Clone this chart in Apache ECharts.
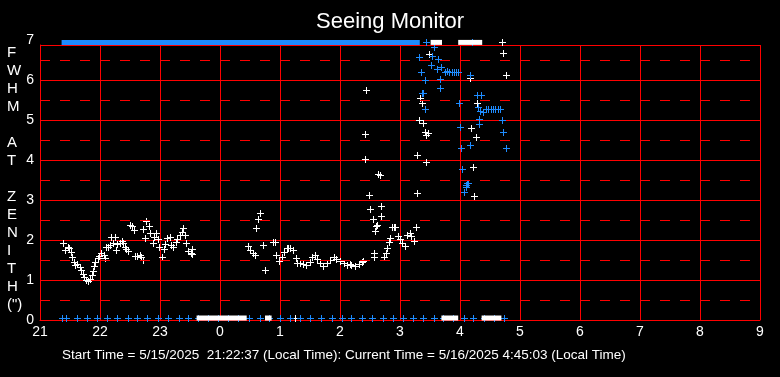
<!DOCTYPE html>
<html>
<head>
<meta charset="utf-8">
<script src="https://cdn.jsdelivr.net/npm/echarts@6/dist/echarts.min.js"></script>
<style>
html, body { margin: 0; padding: 0; background: #000; }
#chart { width: 780px; height: 377px; }
</style>
</head>
<body>
<div id="chart"></div>
<script>
// hours after midnight are written as 24 + h
var xTicks = [21, 22, 23, 24, 25, 26, 27, 28, 29, 30, 31, 32, 33];
var dashLevels = [0.5, 1.5, 2.5, 3.5, 4.5, 5.5, 6.5];

// seeing values (white)
var whitePts = [
    [21.39,1.92],[21.42,1.75],[21.46,1.83],[21.49,1.79],[21.51,1.71],[21.53,1.58],[21.56,1.46],[21.58,1.38],
    [21.62,1.40],[21.66,1.33],[21.68,1.25],[21.71,1.15],[21.73,1.07],[21.76,1.00],[21.80,0.97],[21.83,1.02],
    [21.86,1.13],[21.88,1.23],[21.90,1.35],[21.92,1.46],[21.96,1.54],[21.99,1.60],[22.02,1.67],[22.06,1.63],
    [22.08,1.54],[22.10,1.82],[22.14,1.83],[22.17,1.88],[22.18,2.08],[22.22,1.93],[22.25,2.08],[22.27,1.75],
    [22.29,1.90],[22.33,1.93],[22.36,1.98],[22.39,1.92],[22.42,1.83],[22.44,1.77],[22.47,1.73],[22.50,2.38],
    [22.53,2.35],[22.56,2.25],[22.58,1.60],[22.62,1.60],[22.66,1.63],[22.68,1.57],[22.71,1.50],[22.72,2.27],
    [22.75,2.04],[22.77,2.48],[22.81,2.35],[22.83,2.18],[22.88,1.92],[22.90,2.07],[22.93,2.18],[22.96,2.02],
    [22.99,1.83],[23.03,1.58],[23.06,1.77],[23.09,1.90],[23.11,2.04],[23.17,2.07],[23.19,1.88],[23.22,1.83],
    [23.27,1.96],[23.29,2.02],[23.33,2.13],[23.36,2.21],[23.39,2.29],[23.42,2.13],[23.44,1.92],[23.47,1.73],
    [23.51,1.68],[23.53,1.65],[23.54,1.77],
    [24.46,1.85],[24.50,1.75],[24.55,1.68],[24.58,1.63],[24.60,2.29],[24.64,2.52],[24.67,2.67],[24.71,1.88],
    [24.75,1.25],[24.89,1.96],[24.91,1.96],[24.93,1.63],[24.99,1.48],[25.03,1.58],[25.07,1.71],[25.11,1.79],
    [25.14,1.80],[25.17,1.79],[25.22,1.75],[25.27,1.54],[25.29,1.42],[25.33,1.43],[25.39,1.40],[25.44,1.38],
    [25.50,1.46],[25.54,1.57],[25.58,1.63],[25.62,1.52],[25.67,1.42],[25.72,1.35],[25.78,1.42],[25.83,1.50],
    [25.90,1.57],[25.94,1.52],[26.00,1.48],[26.06,1.43],[26.11,1.38],[26.16,1.40],[26.18,1.38],[26.25,1.35],
    [26.31,1.40],[26.36,1.46],[26.39,1.48],
    [26.41,4.02],[26.42,4.64],[26.44,5.74],[26.49,3.13],[26.50,2.77],[26.55,2.52],[26.57,1.67],[26.57,1.57],
    [26.59,2.23],[26.60,2.35],[26.61,2.38],[26.64,3.65],[26.66,3.62],[26.68,2.85],[26.69,2.60],[26.73,1.57],
    [26.76,1.67],[26.78,1.79],[26.81,1.96],[26.83,2.04],[26.87,2.32],[26.90,2.33],[26.92,2.33],[26.96,2.10],
    [27.00,2.02],[27.04,1.93],[27.08,1.85],[27.11,2.13],[27.16,2.18],[27.19,2.10],[27.23,1.98],[27.26,2.32],
    [27.28,3.17],[27.29,4.12],[27.31,4.99],[27.33,5.54],[27.36,5.43],[27.39,4.92],[27.41,4.71],[27.44,4.63],
    [27.47,4.68],[27.44,3.94],[27.49,6.64],
    [28.17,6.04],[28.19,4.79],[28.21,3.82],[28.24,3.10],[28.26,4.58],[28.28,5.42],[28.72,6.67],[28.76,6.12],
    [25.25,0.05],[28.70,6.94]
];

// second channel (blue)
var bluePts = [
    [27.32,6.57],[27.35,6.19],[27.36,5.68],[27.39,5.67],[27.41,5.27],[27.42,6.00],[27.52,6.38],[27.54,6.60],
    [27.57,6.82],[27.61,6.27],[27.64,6.52],[27.67,6.02],[27.67,5.79],[27.69,6.32],[27.75,6.20],[27.78,6.22],
    [27.82,6.20],[27.86,6.21],[27.90,6.19],[27.94,6.20],[27.97,6.20],[27.99,5.42],[28.005,4.83],[28.02,4.29],
    [28.04,3.77],[28.07,3.21],[28.10,3.33],[28.10,3.38],[28.12,3.43],[28.14,3.42],[28.16,4.37],[28.17,6.13],
    [28.28,5.63],[28.30,5.33],[28.31,5.02],[28.32,4.89],[28.33,5.22],[28.35,5.63],[28.39,5.21],[28.43,5.27],
    [28.47,5.27],[28.51,5.27],[28.55,5.27],[28.59,5.27],[28.63,5.27],[28.67,5.27],[28.70,5.00],[28.72,4.69],
    [28.76,4.30],[27.44,6.94],[28.20,6.94]
];

// bottom row of blue markers (times)
var bottomBlueTimes = [
    21.36, 21.44, 21.61, 21.78, 21.95, 22.11, 22.29, 22.46, 22.62, 22.79, 22.96, 23.14, 23.31, 23.47,
    23.64, 23.80, 23.97, 24.14, 24.30, 24.49, 24.66, 24.82, 25.00, 25.17, 25.33, 25.50, 25.68, 25.86,
    26.03, 26.19, 26.36, 26.53, 26.71, 26.88, 27.05, 27.21, 27.38, 27.56, 27.72, 27.88, 28.06, 28.22,
    28.40, 28.57, 28.73
];

// runs of saturated readings, [start, end]
var topBlueRuns = [[21.36, 27.33]];
var topWhiteRuns = [[27.51, 27.70], [27.97, 28.37]];
var bottomWhiteRuns = [[23.61, 24.445], [24.75, 24.86], [27.69, 27.97], [28.36, 28.69]];

var TOP_V = 6.94, BOT_V = 0.05;
var BLUE = '#1E8CFF', RED = '#FF0000';

function runSeries(runs, v, color) {
    return runs.map(function (r) {
        return {
            type: 'line', clip: false, symbol: 'none', silent: true,
            data: [[r[0], v], [r[1], v]],
            lineStyle: { color: color, width: 5 }
        };
    });
}

// pixel-snapped "+" marker
function crossSeries(data, color) {
    return {
        type: 'custom', clip: false, silent: true, data: data,
        encode: { x: 0, y: 1 },
        renderItem: function (params, api) {
            var p = api.coord([api.value(0), api.value(1)]);
            var x = Math.round(p[0]), y = Math.round(p[1]);
            return {
                type: 'group',
                children: [
                    { type: 'rect', shape: { x: x - 3, y: y, width: 7, height: 1 }, style: { fill: color } },
                    { type: 'rect', shape: { x: x, y: y - 3, width: 1, height: 7 }, style: { fill: color } }
                ]
            };
        }
    };
}

var chart = echarts.init(document.getElementById('chart'), null, { renderer: 'canvas' });

var series = [];
series.push({
    type: 'scatter', data: [], silent: true,
    markLine: {
        silent: true, symbol: 'none', label: { show: false }, animation: false,
        lineStyle: { color: RED, width: 1, type: [10, 10] },
        data: dashLevels.map(function (v) { return { yAxis: v }; })
    }
});
series = series.concat(runSeries(bottomWhiteRuns, BOT_V, '#fff'));
series = series.concat(runSeries(topBlueRuns, TOP_V, BLUE));
series = series.concat(runSeries(topWhiteRuns, TOP_V, '#fff'));
series.push(crossSeries(whitePts, '#fff'));
series.push(crossSeries(bluePts.concat(bottomBlueTimes.map(function (t) { return [t, BOT_V]; })), BLUE));

chart.setOption({
    backgroundColor: '#000',
    animation: false,
    textStyle: { fontFamily: 'Liberation Sans, Arial, sans-serif' },
    title: {
        text: 'Seeing Monitor', left: 'center', top: 6,
        textStyle: { color: '#fff', fontSize: 22, fontWeight: 'normal' }
    },
    grid: { left: 40, right: 20, top: 45, bottom: 57 },
    xAxis: {
        type: 'value', min: 21, max: 33, interval: 1,
        axisLine: { lineStyle: { color: RED, width: 1 } },
        axisTick: { show: false },
        splitLine: { show: true, lineStyle: { color: RED, width: 1 } },
        axisLabel: {
            color: '#fff', fontSize: 14, margin: 5,
            formatter: function (v) { return String(v % 24); }
        }
    },
    yAxis: {
        type: 'value', min: 0, max: 6.875, interval: 1,
        axisLine: { show: true, lineStyle: { color: RED, width: 1 } },
        axisTick: { show: false },
        splitLine: { show: true, lineStyle: { color: RED, width: 1 } },
        axisLabel: {
            color: '#fff', fontSize: 14, margin: 6,
            formatter: function (v) { return v > 6.8 ? '{t|7}' : String(v); },
            rich: { t: { color: '#fff', fontSize: 14, padding: [0, 0, 10, 0] } }
        }
    },
    graphic: [
        {
            type: 'text', left: 7, top: 44,
            style: {
                text: 'F\nW\nH\nM\n \nA\nT\n \nZ\nE\nN\nI\nT\nH\n(")',
                fill: '#fff', font: '15px Liberation Sans, Arial, sans-serif',
                lineHeight: 18, align: 'center', width: 12
            }
        },
        {
            type: 'text', left: 62, top: 348,
            style: {
                text: 'Start Time = 5/15/2025  21:22:37 (Local Time): Current Time = 5/16/2025 4:45:03 (Local Time)',
                fill: '#fff', font: '13.5px Liberation Sans, Arial, sans-serif'
            }
        }
    ],
    series: series
});
</script>
</body>
</html>
